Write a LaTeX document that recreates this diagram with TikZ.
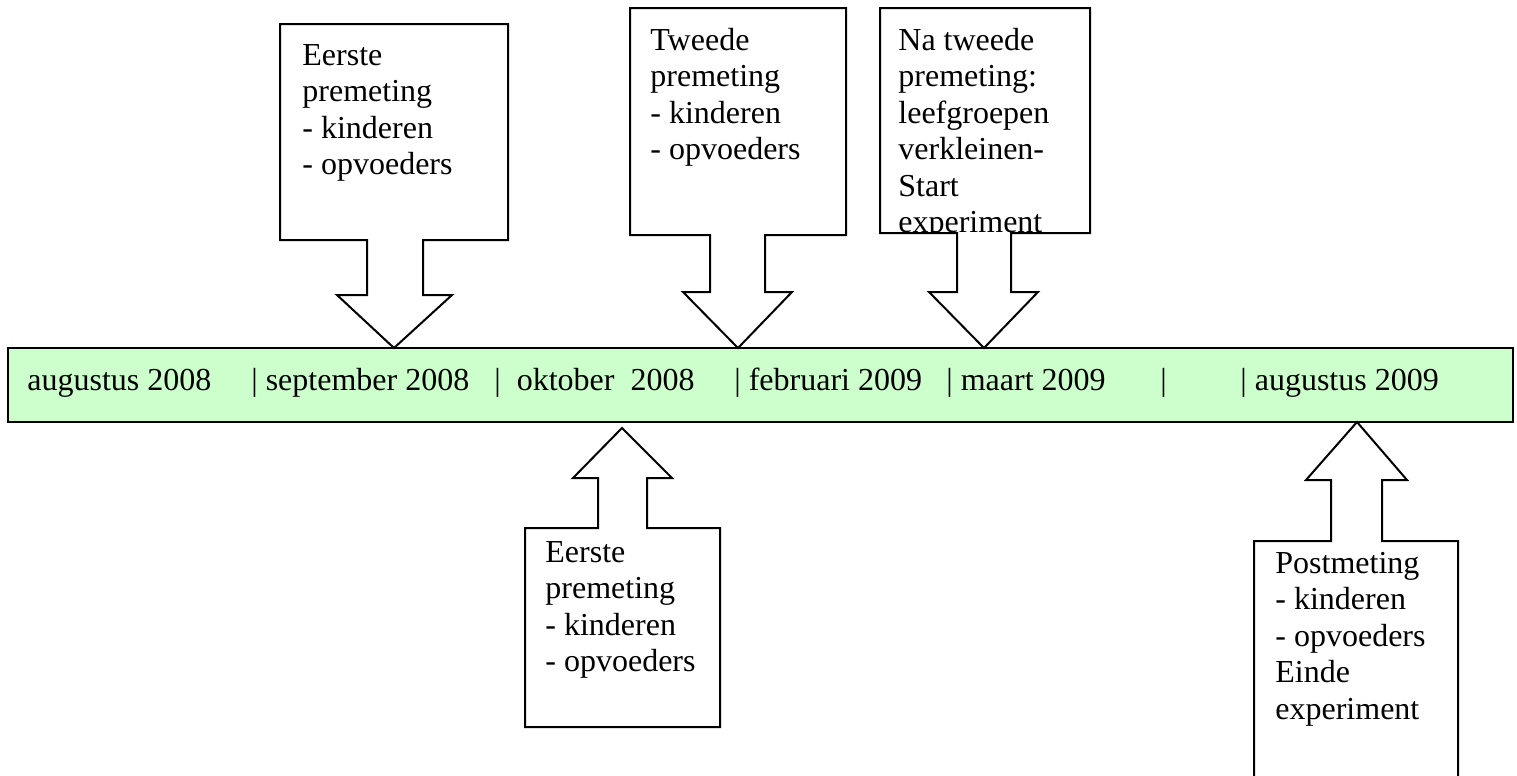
\documentclass[tikz,border=0pt]{standalone}
\usepackage{fontspec}
\setmainfont{Liberation Serif}
\definecolor{barfill}{HTML}{CCFFCC}
\begin{document}
\begin{tikzpicture}[x=0.5pt,y=-0.5pt,
  callout/.style={draw=black, fill=white, line width=1pt, line join=miter},
  bar/.style={draw=black, fill=barfill, line width=1pt},
  lbl/.style={anchor=base west, inner sep=0pt, font=\fontsize{16}{18.3}\selectfont},
  boxtext/.style={lbl}
]
\useasboundingbox (0,0) rectangle (1517,776);
\clip (0,0) rectangle (1517,776);

% timeline bar
\draw[bar] (8,348) rectangle (1513,422);
\node[lbl] (t1) at (27,390) {augustus 2008};
\node[lbl] (t2) at (251,390) {| september 2008};
\node[lbl] (t3) at (494,390) {| \ oktober \ 2008};
\node[lbl] (t4) at (734,390) {| februari 2009};
\node[lbl] (t5) at (946,390) {| maart 2009};
\node[lbl] (t6) at (1160,390) {|};
\node[lbl] (t7) at (1240,390) {| augustus 2009};

% callout A (down)
\draw[callout] (280,24) -- (508,24) -- (508,240) -- (423,240) -- (423,295) -- (452,295)
  -- (394,348) -- (337,295) -- (367,295) -- (367,240) -- (280,240) -- cycle;
\node[boxtext] (a) at (302,65) {\parbox[t]{200pt}{\raggedright Eerste\\premeting\\- kinderen\\- opvoeders}};

% callout B (down)
\draw[callout] (630,8) -- (846,8) -- (846,235) -- (765,235) -- (765,292) -- (792,292)
  -- (738,348) -- (683,292) -- (710,292) -- (710,235) -- (630,235) -- cycle;
\node[boxtext] (b) at (650,50) {\parbox[t]{200pt}{\raggedright Tweede\\premeting\\- kinderen\\- opvoeders}};

% callout C (down, text clipped)
\draw[callout] (880,8) -- (1090,8) -- (1090,233) -- (1011,233) -- (1011,292) -- (1038,292)
  -- (984,348) -- (929,292) -- (957,292) -- (957,233) -- (880,233) -- cycle;
\begin{scope}
  \clip (881,9) rectangle (1089,232);
  \node[boxtext] (c) at (898,50) {\parbox[t]{200pt}{\raggedright Na tweede\\premeting:\\leefgroepen\\verkleinen-\\Start\\experiment}};
\end{scope}

% callout D (up)
\draw[callout] (525,727) -- (525,528) -- (598,528) -- (598,478) -- (573,478) -- (622,428)
  -- (672,478) -- (647,478) -- (647,528) -- (720,528) -- (720,727) -- cycle;
\node[boxtext] (d) at (545,562) {\parbox[t]{200pt}{\raggedright Eerste\\premeting\\- kinderen\\- opvoeders}};

% callout E (up, cut off at bottom)
\draw[callout] (1254,800) -- (1254,541) -- (1331,541) -- (1331,480) -- (1306,480) -- (1357,422)
  -- (1407,480) -- (1382,480) -- (1382,541) -- (1458,541) -- (1458,800) -- cycle;
\node[boxtext] (e) at (1275,573) {\parbox[t]{200pt}{\raggedright Postmeting\\- kinderen\\- opvoeders\\Einde\\experiment}};
\end{tikzpicture}
\end{document}
